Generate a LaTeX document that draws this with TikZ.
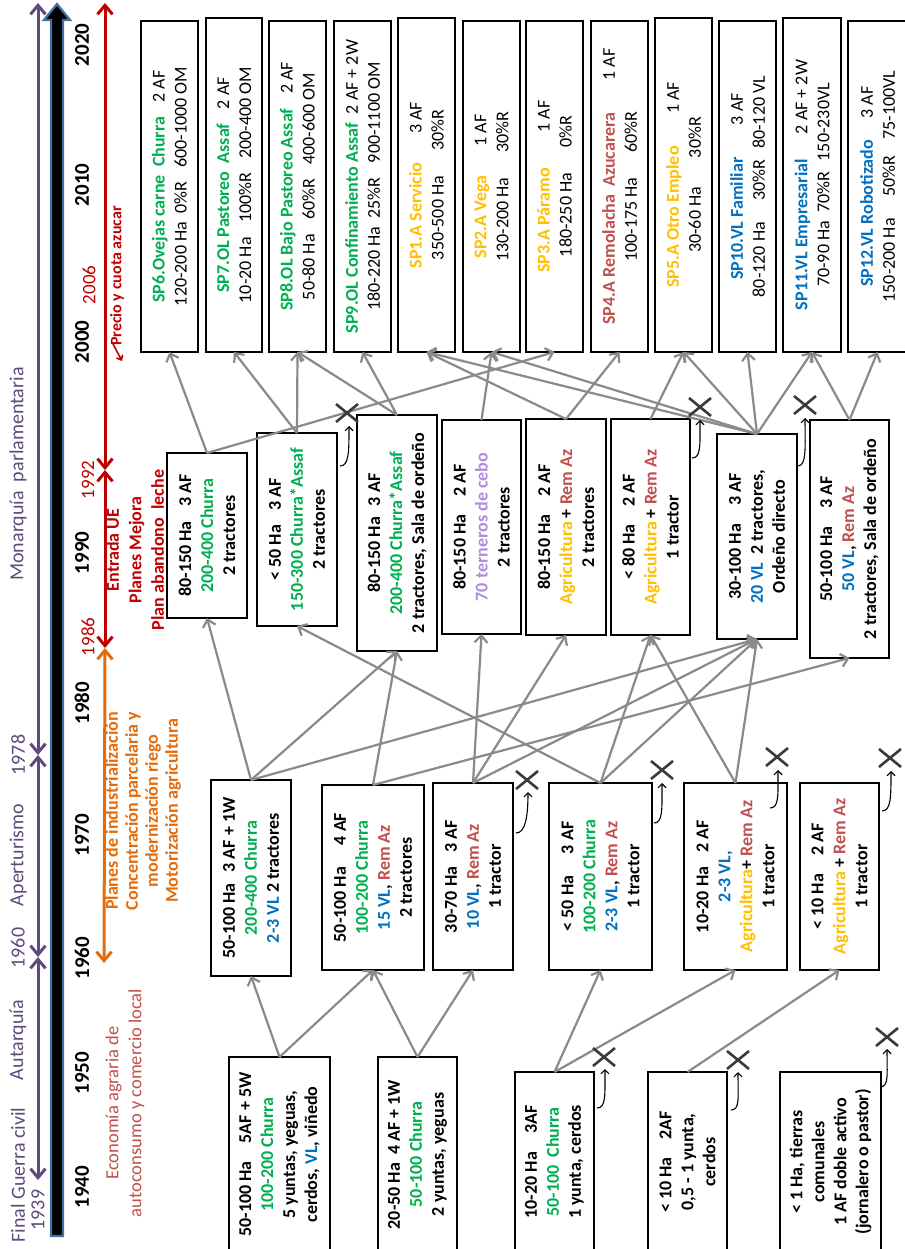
\documentclass[tikz,border=0pt]{standalone}
\usepackage{fontspec}
\setmainfont{Carlito}
\usetikzlibrary{arrows.meta}
\definecolor{sgreen}{HTML}{00B050}
\definecolor{sblue}{HTML}{0070C0}
\definecolor{sgold}{HTML}{FFC000}
\definecolor{sred}{HTML}{C0504D}
\definecolor{slav}{HTML}{B18CDC}
\definecolor{purp}{HTML}{604A7B}
\definecolor{dred}{HTML}{C00000}
\definecolor{orng}{HTML}{E46C0A}
\definecolor{cgray}{HTML}{8A8A8A}
\definecolor{xgray}{HTML}{3A3A3A}
\definecolor{barblue}{HTML}{41719C}
\newcommand\fA{\fontsize{18}{22}\selectfont}
\newcommand\Cgreen[1]{\textcolor{sgreen}{#1}}
\newcommand\Cblue[1]{\textcolor{sblue}{#1}}
\newcommand\Cgold[1]{\textcolor{sgold}{#1}}
\newcommand\Cred[1]{\textcolor{sred}{#1}}
\newcommand\Clav[1]{\textcolor{slav}{#1}}
\newcommand\mybox[7]{\node[#1, minimum width={(#6-#5)*1pt}, minimum height={(#4-#3)*1pt}] (#2) at ({(#3+#4)/2},{(#5+#6)/2}) {#7};}
\newcommand\xmk[3]{\coordinate (#1) at (#2,#3); \draw[xmark] ([shift={(-11,-9)}]#1) -- ([shift={(11,9)}]#1) ([shift={(-11,9)}]#1) -- ([shift={(11,-9)}]#1);}
\newcommand\hk[5]{\coordinate (#1s) at (#2,#3); \coordinate (#1t) at (#4,#5); \draw[hookarrow] (#1s) .. controls +(9,0) and +(0,26) .. (#1t);}
\begin{document}
\begin{tikzpicture}[x=1pt,y=-1pt,
 box/.style={draw=black, line width=1.5pt, rotate=90, align=center, inner sep=0pt, outer sep=0pt},
 tbox/.style={box, font=\fA},
 mbox/.style={box, font=\fA\bfseries},
 conn/.style={draw=cgray, line width=2.2pt, -{Straight Barb[length=7pt,width=13pt]}},
 xmark/.style={draw=xgray, line width=2.6pt},
 hookarrow/.style={draw=black, line width=1.1pt, -{Straight Barb[length=4pt,width=8pt]}},
 pline/.style={draw=purp, line width=3pt, {Straight Barb[length=9pt,width=15pt]}-{Straight Barb[length=9pt,width=15pt]}},
 rline/.style={draw=dred, line width=3pt, {Straight Barb[length=9pt,width=15pt]}-{Straight Barb[length=9pt,width=15pt]}},
 oline/.style={draw=orng, line width=3pt, {Straight Barb[length=9pt,width=15pt]}-{Straight Barb[length=9pt,width=15pt]}},
 yr/.style={rotate=90, font=\fontsize{21}{24}\selectfont\bfseries},
 ptext/.style={rotate=90, text=purp, font=\fontsize{20}{22}\selectfont},
 rtext/.style={rotate=90, text=dred, align=center, font=\fontsize{18}{22.5}\selectfont\bfseries},
 otext/.style={rotate=90, text=orng, align=center, font=\fontsize{18}{20}\selectfont\bfseries},
 etext/.style={rotate=90, text=sred, align=center, font=\fontsize{18.5}{23}\selectfont},
]
\useasboundingbox (0,0) rectangle (904,1249);
\fill[white] (0,0) rectangle (904,1249);

% ---- timeline bar ----
\filldraw[fill=black, draw=barblue, line width=2.2pt, line join=miter]
  (51,1236) -- (51,20) -- (44,20) -- (57,4) -- (70,20) -- (63,20) -- (63,1236) -- cycle;

% ---- period arrows ----
\coordinate (p1) at (38,1180); \coordinate (p2) at (38,957);
\coordinate (p3) at (38,755); \coordinate (p4) at (38,3);
\draw[pline] (p1) -- (p2);
\draw[pline] (p2) -- (p3);
\draw[pline] (p3) -- (p4);
\coordinate (r1) at (105,648); \coordinate (r2) at (105,470); \coordinate (r3) at (105,3);
\draw[rline] (r1) -- (r2);
\draw[rline] (r2) -- (r3);
\coordinate (o1) at (104,963);
\draw[oline] (o1) -- (r1);
\coordinate (sa) at (113,344); \coordinate (sb) at (122,361);
\draw[draw=dred, line width=1.6pt, -{Straight Barb[length=4pt,width=7pt]}] (sa) -- (sb);

% ---- timeline labels ----
\node[ptext] (lfin) at (18,1175) {Final Guerra civil};
\node[ptext] (l1939) at (38,1210) {1939};
\node[ptext] (laut) at (18,1040) {Autarquía};
\node[ptext] (l1960p) at (18,948) {1960};
\node[ptext] (lape) at (18,855) {Aperturismo};
\node[ptext] (l1978) at (18,755) {1978};
\node[ptext] (lmon) at (18,474) {Monarquía\ \ parlamentaria};

\node[yr] (y2020) at (82,45) {2020};
\node[yr] (y2010) at (82,185) {2010};
\node[yr] (y2000) at (82,342) {2000};
\node[yr] (y1990) at (82,553) {1990};
\node[yr] (y1980) at (82,703) {1980};
\node[yr] (y1970) at (82,835) {1970};
\node[yr] (y1960) at (82,958) {1960};
\node[yr] (y1950) at (82,1073) {1950};
\node[yr] (y1940) at (82,1187) {1940};

\node[rotate=90, text=dred, font=\fontsize{19}{22}\selectfont] (r1986) at (88,637) {1986};
\node[rotate=90, text=dred, font=\fontsize{19}{22}\selectfont] (r1992) at (88,480) {1992};
\node[rotate=90, text=dred, font=\fontsize{19}{22}\selectfont] (r2006) at (89,285) {2006};
\node[rotate=90, text=dred, font=\fontsize{16}{20}\selectfont\bfseries] (prec) at (117,276) {Precio y cuota azucar};
\node[rtext] (ue) at (135,550) {Entrada UE\\Planes Mejora\\Plan abandono\ \ leche};
\node[otext] (ind) at (143,811) {Planes de industrialización\\Concentración parcelaria y\\modernización riego\\Motorización agricultura};
\node[etext] (eco) at (125,1103) {Economía agraria de\\autoconsumo y comercio local};

% ---- top tier ----
\mybox{tbox}{SP6}{141}{198}{21}{352}{\textbf{\Cgreen{SP6.Ovejas carne\ \ Churra}}\hspace{0.8em}2 AF\\120-200 Ha\ \ 0\%R\hspace{0.8em}600-1000 OM}
\mybox{tbox}{SP7}{206}{262}{18}{352}{\textbf{\Cgreen{SP7.OL Pastoreo\ \ Assaf}}\hspace{0.8em}2 AF\\10-20 Ha\hspace{0.8em}100\%R\hspace{0.8em}200-400 OM}
\mybox{tbox}{SP8}{269}{326}{21}{352}{\textbf{\Cgreen{SP8.OL Bajo Pastoreo Assaf}}\hspace{0.8em}2 AF\\50-80 Ha\hspace{0.8em}60\%R\hspace{0.8em}400-600 OM}
\mybox{tbox}{SP9}{334}{391}{21}{352}{\textbf{\Cgreen{SP9.OL Confinamiento Assaf}}\hspace{0.5em}2 AF + 2W\\180-220 Ha\ \ 25\%R\hspace{0.8em}900-1100 OM}
\mybox{tbox}{SP1}{398}{455}{18}{352}{\textbf{\Cgold{SP1.A Servicio}}\hspace{1.6em}3 AF\\350-500 Ha\hspace{1.4em}30\%R}
\mybox{tbox}{SP2}{463}{520}{21}{352}{\textbf{\Cgold{SP2.A Vega}}\hspace{1.6em}1 AF\\130-200 Ha\hspace{1.4em}30\%R}
\mybox{tbox}{SP3}{526}{583}{21}{352}{\textbf{\Cgold{SP3.A Páramo}}\hspace{2em}1 AF\\180-250 Ha\hspace{1.4em}0\%R}
\mybox{tbox}{SP4}{591}{648}{21}{352}{\textbf{\Cred{SP4.A Remolacha\ \ Azucarera}}\hspace{1.8em}1 AF\\100-175 Ha\hspace{1.4em}60\%R}
\mybox{tbox}{SP5}{655}{712}{18}{352}{\textbf{\Cgold{SP5.A Otro Empleo}}\hspace{1.8em}1 AF\\30-60 Ha\hspace{1.6em}30\%R}
\mybox{tbox}{SP10}{719}{776}{21}{352}{\textbf{\Cblue{SP10.VL Familiar}}\hspace{1.8em}3 AF\\80-120 Ha\hspace{1.2em}30\%R\hspace{0.6em}80-120 VL}
\mybox{tbox}{SP11}{783}{841}{18}{352}{\textbf{\Cblue{SP11.VL Empresarial}}\hspace{1.4em}2 AF + 2W\\70-90 Ha\ \ 70\%R\hspace{0.6em}150-230VL}
\mybox{tbox}{SP12}{848}{907}{21}{352}{\textbf{\Cblue{SP12.VL Robotizado}}\hspace{1.2em}3 AF\\150-200 Ha\hspace{1.2em}50\%R\hspace{0.9em}75-100VL}

% ---- middle tier ----
\mybox{mbox}{M1}{167}{247}{453}{618}{80-150 Ha\hspace{0.8em}3 AF\\\Cgreen{200-400 Churra}\\2 tractores}
\mybox{mbox}{M2}{257}{337}{433}{626}{< 50 Ha\hspace{0.8em}3 AF\\\Cgreen{150-300 Churra*Assaf}\\2 tractores}
\mybox{mbox}{M3}{357}{437}{415}{651}{80-150 Ha\hspace{0.6em}3 AF\\\Cgreen{200-400 Churra*Assaf}\\2 tractores, Sala de ordeño}
\mybox{mbox}{M4}{442}{521}{420}{634}{80-150 Ha\hspace{1em}2 AF\\\Clav{70 terneros de cebo}\\2 tractores}
\mybox{mbox}{M5}{526}{606}{419}{635}{80-150 Ha\hspace{1em}2 AF\\\Cgold{Agricultura} + \Cred{Rem Az}\\2 tractores}
\mybox{mbox}{M6}{611}{690}{419}{635}{< 80 Ha\hspace{1em}2 AF\\\Cgold{Agricultura} + \Cred{Rem Az}\\1 tractor}
\mybox{mbox}{M7}{717}{797}{434}{639}{30-100 Ha\hspace{1em}3 AF\\\Cblue{20 VL}\ \ 2 tractores,\\Ordeño directo}
\mybox{mbox}{M8}{810}{889}{420}{658}{50-100 Ha\hspace{1em}3 AF\\\Cblue{50 VL}, \Cred{Rem Az}\\2 tractores, Sala de ordeño}

% ---- lower tier ----
\mybox{mbox}{L1}{211}{291}{780}{976}{50-100 Ha\hspace{0.6em}3 AF + 1W\\\Cgreen{200-400 Churra}\\\Cblue{2-3 VL} 2 tractores}
\mybox{mbox}{L2}{322}{424}{785}{970}{50-100 Ha\hspace{1.2em}4 AF\\\Cgreen{100-200 Churra}\\\Cblue{15 VL}, \Cred{Rem Az}\\2 tractores}
\mybox{mbox}{L3}{433}{513}{783}{970}{30-70 Ha\hspace{0.8em}3 AF\\\Cblue{10 VL}, \Cred{Rem Az}\\1 tractor}
\mybox{mbox}{L4}{549}{652}{783}{970}{< 50 Ha\hspace{1.2em}3 AF\\\Cgreen{100-200 Churra}\\\Cblue{2-3 VL}, \Cred{Rem Az}\\1 tractor}
\mybox{mbox}{L5}{684}{787}{783}{970}{10-20 Ha\hspace{0.8em}2 AF\\\Cblue{2-3 VL,}\\\Cgold{Agricultura}+ \Cred{Rem Az}\\1 tractor}
\mybox{mbox}{L6}{800}{879}{783}{970}{< 10 Ha\hspace{1em}2 AF\\\Cgold{Agricultura} + \Cred{Rem Az}\\1 tractor}

% ---- bottom tier ----
\mybox{mbox}{B1}{229}{330}{1057}{1252}{50-100 Ha\hspace{1em}5AF + 5W\\\Cgreen{100-200 Churra}\\5 yuntas, yeguas,\\cerdos, \Cblue{VL}, viñedo}
\mybox{mbox}{B2}{378}{457}{1057}{1252}{20-50 Ha\ \ 4 AF + 1W\\\Cgreen{50-100 Churra}\\2 yuntas, yeguas}
\mybox{mbox}{B3}{515}{594}{1072}{1252}{10-20 Ha\hspace{1em}3AF\\\Cgreen{50-100\ \ Churra}\\1 yunta, cerdos}
\mybox{mbox}{B4}{648}{727}{1072}{1252}{< 10 Ha\hspace{1em}2AF\\0,5 - 1 yunta,\\cerdos}
\mybox{mbox}{B5}{780}{881}{1072}{1252}{< 1 Ha, tierras\\comunales\\1 AF doble activo\\(jornalero o pastor)}

% ---- connectors: middle -> top ----
\draw[conn] (M1.east) -- (SP6.west);
\draw[conn] (M1.east) -- (SP3.west);
\draw[conn] (M2.east) -- (SP7.west);
\draw[conn] (M2.east) -- (SP8.west);
\draw[conn] (M3.east) -- (SP8.west);
\draw[conn] (M3.east) -- (SP9.west);
\draw[conn] (M4.east) -- (SP2.west);
\draw[conn] (M5.east) -- (SP1.west);
\draw[conn] (M5.east) -- (SP4.west);
\draw[conn] (M6.east) -- (SP5.west);
\draw[conn] (M7.east) -- (SP2.west);
\draw[conn] (M7.east) -- (SP1.west);
\draw[conn] (M7.east) -- (SP5.west);
\draw[conn] (M7.east) -- (SP10.west);
\draw[conn] (M7.east) -- (SP11.west);
\draw[conn] (M8.east) -- (SP11.west);
\draw[conn] (M8.east) -- (SP12.west);

% ---- connectors: lower -> middle ----
\draw[conn] (L1.east) -- (M1.west);
\draw[conn] (L1.east) -- (M3.west);
\draw[conn] (L1.east) -- (M7.west);
\draw[conn] (L2.east) -- (M3.west);
\draw[conn] (L2.east) -- (M8.west);
\draw[conn] (L3.east) -- (M4.west);
\draw[conn] (L3.east) -- (M5.west);
\draw[conn] (L3.east) -- (M7.west);
\draw[conn] (L4.east) -- (M2.west);
\draw[conn] (L4.east) -- (M6.west);
\draw[conn] (L4.east) -- (M7.west);
\draw[conn] (L5.east) -- (M6.west);
\draw[conn] (L5.east) -- (M7.west);

% ---- connectors: bottom -> lower ----
\draw[conn] (B1.east) -- (L1.west);
\draw[conn] (B1.east) -- (L2.west);
\draw[conn] (B2.east) -- (L2.west);
\draw[conn] (B2.east) -- (L3.west);
\draw[conn] (B3.east) -- (L4.west);
\draw[conn] (B3.east) -- (L5.west);
\draw[conn] (B4.east) -- (L6.west);

% ---- abandonment marks ----
\xmk{x1}{347}{413} \hk{h1}{340}{466}{349}{426}
\xmk{x2}{700}{407} \hk{h2}{692}{458}{700}{420}
\xmk{x3}{805}{405} \hk{h3}{798}{466}{805}{418}
\xmk{x4}{527}{780} \hk{h4}{516}{833}{528}{792}
\xmk{x5}{662}{770} \hk{h5}{654}{823}{662}{783}
\xmk{x6}{777}{757} \hk{h6}{770}{808}{778}{770}
\xmk{x7}{890}{758} \hk{h7}{882}{811}{891}{771}
\xmk{x8}{604}{1057} \hk{h8}{597}{1108}{605}{1069}
\xmk{x9}{738}{1060} \hk{h9}{731}{1110}{738}{1072}
\xmk{x10}{887}{1037} \hk{h10}{880}{1087}{887}{1049}
\end{tikzpicture}
\end{document}
